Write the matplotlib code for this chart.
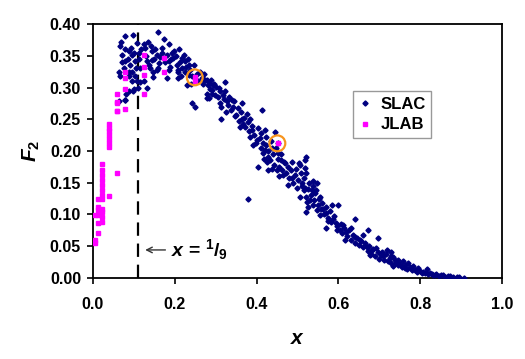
#!/usr/bin/env python3
# F2 vs x scatter: SLAC (navy diamonds) + JLAB (magenta squares), dashed line at x = 1/9
import numpy as np
import matplotlib
matplotlib.use("Agg")
import matplotlib.pyplot as plt

plt.rcParams["font.family"] = ["Liberation Sans", "DejaVu Sans"]
plt.rcParams["font.weight"] = "bold"
plt.rcParams["mathtext.fontset"] = "custom"
plt.rcParams["mathtext.it"] = "Liberation Sans:italic:bold"
plt.rcParams["mathtext.rm"] = "Liberation Sans:bold"

# SLAC points (x, F2)
slac_xy = [
    (0.078, 0.381), (0.098, 0.383), (0.158, 0.388), (0.173, 0.377), (0.185, 0.368),
    (0.211, 0.361), (0.124, 0.368), (0.108, 0.370), (0.128, 0.362), (0.067, 0.365),
    (0.079, 0.361), (0.087, 0.357), (0.071, 0.352), (0.095, 0.352), (0.112, 0.354),
    (0.144, 0.357), (0.156, 0.352), (0.169, 0.354), (0.193, 0.354), (0.197, 0.346),
    (0.185, 0.341), (0.218, 0.346), (0.226, 0.341), (0.234, 0.336), (0.205, 0.336),
    (0.079, 0.341), (0.091, 0.336), (0.104, 0.341), (0.132, 0.341), (0.144, 0.344),
    (0.161, 0.339), (0.140, 0.331), (0.156, 0.328), (0.185, 0.328), (0.209, 0.328),
    (0.226, 0.325), (0.063, 0.325), (0.075, 0.331), (0.095, 0.325), (0.116, 0.331),
    (0.065, 0.318), (0.087, 0.318), (0.095, 0.310), (0.108, 0.310), (0.148, 0.316),
    (0.181, 0.315), (0.209, 0.315), (0.234, 0.320), (0.266, 0.315), (0.275, 0.312),
    (0.283, 0.307), (0.287, 0.297), (0.279, 0.289), (0.283, 0.284), (0.230, 0.304),
    (0.242, 0.276), (0.249, 0.269), (0.087, 0.294), (0.100, 0.297), (0.079, 0.281),
    (0.124, 0.310), (0.132, 0.299), (0.064, 0.279), (0.099, 0.294), (0.078, 0.280),
    (0.082, 0.290), (0.111, 0.299), (0.115, 0.309),
    (0.270, 0.314), (0.282, 0.304), (0.278, 0.312), (0.294, 0.304), (0.302, 0.301),
    (0.290, 0.296), (0.310, 0.294), (0.323, 0.309), (0.298, 0.288), (0.278, 0.283),
    (0.318, 0.288), (0.327, 0.278), (0.310, 0.275), (0.339, 0.280), (0.343, 0.270),
    (0.364, 0.275), (0.351, 0.256), (0.314, 0.270), (0.314, 0.251), (0.364, 0.251),
    (0.376, 0.259), (0.384, 0.251), (0.368, 0.243), (0.413, 0.264), (0.360, 0.238),
    (0.388, 0.233), (0.404, 0.236), (0.420, 0.233), (0.384, 0.222), (0.408, 0.220),
    (0.424, 0.222), (0.445, 0.230), (0.392, 0.209), (0.420, 0.201), (0.429, 0.191),
    (0.417, 0.196), (0.437, 0.204), (0.453, 0.196), (0.461, 0.186), (0.404, 0.175),
    (0.429, 0.170), (0.449, 0.170), (0.470, 0.181), (0.486, 0.183), (0.503, 0.181),
    (0.519, 0.186), (0.465, 0.162), (0.486, 0.157), (0.478, 0.146), (0.498, 0.141),
    (0.515, 0.138), (0.506, 0.128), (0.523, 0.120), (0.527, 0.112), (0.380, 0.125),
    (0.453, 0.212),
    (0.518, 0.173), (0.522, 0.165), (0.510, 0.149), (0.518, 0.141), (0.522, 0.128),
    (0.539, 0.152), (0.547, 0.149), (0.535, 0.138), (0.543, 0.133), (0.555, 0.128),
    (0.531, 0.123), (0.539, 0.115), (0.522, 0.104), (0.547, 0.107), (0.563, 0.109),
    (0.555, 0.099), (0.571, 0.102), (0.584, 0.115), (0.600, 0.115), (0.576, 0.089),
    (0.588, 0.092), (0.571, 0.078), (0.596, 0.081), (0.604, 0.076), (0.612, 0.084),
    (0.620, 0.073), (0.641, 0.092), (0.632, 0.078), (0.616, 0.060), (0.641, 0.065),
    (0.653, 0.060), (0.661, 0.068), (0.673, 0.076), (0.698, 0.063), (0.669, 0.049),
    (0.682, 0.044), (0.693, 0.047), (0.706, 0.041), (0.718, 0.044), (0.677, 0.036),
    (0.710, 0.034), (0.730, 0.034), (0.742, 0.023), (0.734, 0.018), (0.506, 0.178),
    (0.522, 0.191),
    (0.730, 0.041), (0.734, 0.033), (0.730, 0.023), (0.746, 0.028), (0.759, 0.026),
    (0.771, 0.023), (0.783, 0.018), (0.763, 0.015), (0.795, 0.015), (0.808, 0.010),
    (0.824, 0.008), (0.840, 0.006), (0.856, 0.005), (0.873, 0.003), (0.889, 0.002),
    (0.907, 0.000), (0.832, 0.005), (0.816, 0.014),
    (0.070, 0.340), (0.085, 0.345), (0.092, 0.362), (0.100, 0.355), (0.105, 0.330),
    (0.113, 0.345), (0.118, 0.360), (0.068, 0.372), (0.088, 0.325), (0.103, 0.318),
    (0.130, 0.350), (0.137, 0.335), (0.142, 0.365), (0.150, 0.345), (0.153, 0.360),
    (0.160, 0.330), (0.165, 0.348), (0.170, 0.362), (0.177, 0.340), (0.182, 0.352),
    (0.188, 0.333), (0.192, 0.345), (0.198, 0.358), (0.135, 0.372), (0.147, 0.325),
    (0.203, 0.350), (0.207, 0.325), (0.213, 0.340), (0.218, 0.330), (0.222, 0.352),
    (0.228, 0.333), (0.232, 0.345), (0.238, 0.328), (0.243, 0.318), (0.247, 0.335),
    (0.255, 0.322), (0.258, 0.310), (0.262, 0.325), (0.268, 0.305), (0.272, 0.322),
    (0.288, 0.312), (0.292, 0.290), (0.297, 0.305), (0.215, 0.318), (0.240, 0.305),
    (0.305, 0.285), (0.308, 0.300), (0.320, 0.282), (0.322, 0.295), (0.330, 0.272),
    (0.333, 0.285), (0.338, 0.265), (0.346, 0.278), (0.348, 0.255), (0.355, 0.268),
    (0.358, 0.248), (0.362, 0.262), (0.370, 0.252), (0.372, 0.238), (0.378, 0.245),
    (0.382, 0.232), (0.390, 0.240), (0.395, 0.225), (0.398, 0.212), (0.325, 0.262),
    (0.402, 0.218), (0.410, 0.205), (0.412, 0.228), (0.415, 0.212), (0.418, 0.188),
    (0.422, 0.210), (0.427, 0.200), (0.432, 0.185), (0.435, 0.215), (0.440, 0.195),
    (0.443, 0.178), (0.447, 0.205), (0.452, 0.188), (0.456, 0.175), (0.460, 0.195),
    (0.463, 0.170), (0.468, 0.182), (0.472, 0.165), (0.476, 0.175), (0.480, 0.158),
    (0.484, 0.170), (0.490, 0.150), (0.494, 0.162), (0.497, 0.172), (0.426, 0.182),
    (0.438, 0.172), (0.455, 0.160),
    (0.502, 0.155), (0.508, 0.165), (0.512, 0.145), (0.515, 0.158), (0.525, 0.140),
    (0.528, 0.150), (0.533, 0.130), (0.537, 0.145), (0.541, 0.122), (0.545, 0.138),
    (0.550, 0.115), (0.553, 0.125), (0.558, 0.108), (0.560, 0.118), (0.566, 0.100),
    (0.569, 0.112), (0.574, 0.095), (0.579, 0.105), (0.582, 0.088), (0.590, 0.098),
    (0.594, 0.086), (0.598, 0.075),
    (0.606, 0.085), (0.610, 0.070), (0.614, 0.078), (0.622, 0.066), (0.626, 0.075),
    (0.630, 0.060), (0.636, 0.068), (0.640, 0.055), (0.645, 0.063), (0.650, 0.052),
    (0.656, 0.058), (0.660, 0.048), (0.665, 0.055), (0.672, 0.043), (0.676, 0.050),
    (0.680, 0.038), (0.686, 0.046), (0.690, 0.035), (0.697, 0.040), (0.700, 0.030),
    (0.705, 0.036), (0.712, 0.028), (0.716, 0.038), (0.722, 0.026), (0.726, 0.031),
    (0.738, 0.028), (0.745, 0.020), (0.752, 0.022),
    (0.756, 0.017), (0.762, 0.020), (0.768, 0.014), (0.775, 0.017), (0.779, 0.012),
    (0.787, 0.013), (0.792, 0.010), (0.800, 0.011), (0.804, 0.007), (0.812, 0.008),
    (0.820, 0.006), (0.828, 0.006), (0.836, 0.004), (0.845, 0.003), (0.852, 0.004),
    (0.862, 0.002), (0.868, 0.003), (0.880, 0.001), (0.895, 0.001),
]

# JLAB points (x, F2)
jlab_xy = [
    (0.124, 0.352), (0.173, 0.346), (0.124, 0.333), (0.079, 0.325), (0.173, 0.325),
    (0.124, 0.320), (0.078, 0.315), (0.078, 0.297), (0.124, 0.290), (0.059, 0.289),
    (0.059, 0.277), (0.059, 0.263), (0.078, 0.266), (0.250, 0.316), (0.250, 0.310),
    (0.058, 0.276), (0.060, 0.263), (0.039, 0.243), (0.039, 0.236), (0.039, 0.231),
    (0.039, 0.225), (0.039, 0.219), (0.039, 0.213), (0.039, 0.206), (0.060, 0.165),
    (0.039, 0.129), (0.021, 0.179), (0.021, 0.170), (0.021, 0.162), (0.021, 0.154),
    (0.021, 0.146), (0.021, 0.138), (0.021, 0.130), (0.021, 0.125), (0.013, 0.125),
    (0.013, 0.112), (0.013, 0.107), (0.013, 0.099), (0.013, 0.086), (0.013, 0.070),
    (0.021, 0.109), (0.021, 0.104), (0.021, 0.096), (0.021, 0.088), (0.005, 0.099),
    (0.005, 0.060), (0.005, 0.055), (0.452, 0.212),
]

# highlighted points (orange rings)
ring_x = [0.249, 0.451]
ring_y = [0.316, 0.212]

x_cut = 1.0 / 9.0
x_ticks = [0.0, 0.2, 0.4, 0.6, 0.8, 1.0]
y_ticks = [0.00, 0.05, 0.10, 0.15, 0.20, 0.25, 0.30, 0.35, 0.40]

slac = np.array(slac_xy)
jlab = np.array(jlab_xy)

fig = plt.figure(figsize=(5.25, 3.59), dpi=100)
ax = fig.add_axes([0.177, 0.226, 0.779, 0.707])

ax.plot(slac[:, 0], slac[:, 1], "D", ms=2.6, color="#000080", mec="#000080",
        lw=0, label="SLAC", zorder=3)
ax.plot(jlab[:, 0], jlab[:, 1], "s", ms=2.9, color="#FF00FF", mec="#FF00FF",
        lw=0, label="JLAB", zorder=4)
ax.scatter(ring_x, ring_y, s=130, facecolors="none", edgecolors="#F7941D",
           linewidths=1.6, zorder=5)

ax.axvline(x_cut, color="black", lw=1.6, dashes=(6, 3.5), zorder=2)
ax.annotate("", xy=(0.121, 0.044), xytext=(0.184, 0.044),
            arrowprops=dict(arrowstyle="->", color="#333333", lw=1.0))
ax.text(0.192, 0.044, r"$x$ = $^{1}$/$_{9}$", fontsize=14, va="center", ha="left")

ax.set_xlim(0, 1.0)
ax.set_ylim(0, 0.40)
ax.set_xticks(x_ticks)
ax.set_yticks(y_ticks)
ax.set_xticklabels([f"{v:.1f}" for v in x_ticks])
ax.set_yticklabels([f"{v:.2f}" for v in y_ticks])
ax.tick_params(direction="out", length=4.5, width=1.2, labelsize=11.5)
ax.tick_params(axis="x", pad=9)
ax.tick_params(axis="y", pad=4)
for s in ax.spines.values():
    s.set_linewidth(1.3)

ax.set_xlabel(r"$x$", fontsize=15)
ax.set_ylabel(r"$F_2$", fontsize=15)
ax.xaxis.set_label_coords(0.5, -0.20)
ax.yaxis.set_label_coords(-0.125, 0.5)

leg = ax.legend(loc="upper left", bbox_to_anchor=(0.615, 0.77), fontsize=12,
                frameon=True, fancybox=False, edgecolor="#808080",
                handlelength=0.8, handletextpad=0.5, borderpad=0.35,
                labelspacing=0.35, markerscale=1.0)
leg.get_frame().set_linewidth(1.0)

fig.savefig("out.png", dpi=100)
